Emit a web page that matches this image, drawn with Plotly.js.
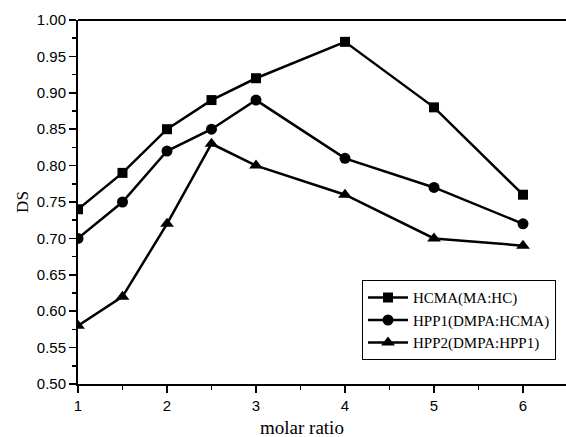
<!DOCTYPE html>
<html>
<head>
<meta charset="utf-8">
<script src="https://cdn.plot.ly/plotly-3.0.1.min.js"></script>
<style>html,body{margin:0;padding:0;background:#fff;}</style>
</head>
<body>
<div id="chart" style="width:566px;height:437px;"></div>
<script>
const molarRatio = [1, 1.5, 2, 2.5, 3, 4, 5, 6];
const hcma = [0.74, 0.79, 0.85, 0.89, 0.92, 0.97, 0.88, 0.76];
const hpp1 = [0.70, 0.75, 0.82, 0.85, 0.89, 0.81, 0.77, 0.72];
const hpp2 = [0.58, 0.62, 0.72, 0.83, 0.80, 0.76, 0.70, 0.69];
const seriesNames = ['HCMA(MA:HC)', 'HPP1(DMPA:HCMA)', 'HPP2(DMPA:HPP1)'];
const xTicks = [1, 2, 3, 4, 5, 6];
const yTicks = [0.50, 0.55, 0.60, 0.65, 0.70, 0.75, 0.80, 0.85, 0.90, 0.95, 1.00];

const lineStyle = {color: '#000', width: 2.5};
const traces = [
  {x: molarRatio, y: hcma, name: seriesNames[0], mode: 'lines+markers', line: lineStyle,
   marker: {symbol: 'square', size: 10, color: '#000'}},
  {x: molarRatio, y: hpp1, name: seriesNames[1], mode: 'lines+markers', line: lineStyle,
   marker: {symbol: 'circle', size: 11, color: '#000'}},
  {x: molarRatio, y: hpp2, name: seriesNames[2], mode: 'lines+markers', line: lineStyle,
   marker: {symbol: 'triangle-up', size: 12, color: '#000'}}
];

const tickFont = {family: 'Liberation Sans, Arial, sans-serif', size: 15, color: '#000'};
const layout = {
  width: 566, height: 437,
  margin: {l: 78, r: 0, t: 19.5, b: 53},
  paper_bgcolor: '#fff', plot_bgcolor: '#fff',
  showlegend: true,
  xaxis: {
    range: [1, 6.483], tickvals: xTicks, ticktext: xTicks.map(String),
    showgrid: false, zeroline: false, showline: true, linecolor: '#000', linewidth: 2,
    ticks: 'outside', ticklen: 7, tickwidth: 1.5, tickcolor: '#000',
    tickfont: tickFont,
    minor: {dtick: 0.5, tick0: 1, ticks: 'outside', ticklen: 4, tickwidth: 1.5, tickcolor: '#000', showgrid: false}
  },
  yaxis: {
    range: [0.5, 1.0], tickvals: yTicks, ticktext: yTicks.map(v => v.toFixed(2)),
    showgrid: false, zeroline: false, showline: true, linecolor: '#000', linewidth: 2,
    ticks: 'outside', ticklen: 7, tickwidth: 1.5, tickcolor: '#000',
    tickfont: tickFont,
    title: {text: 'DS', font: {family: 'Liberation Serif, Times New Roman, serif', size: 17, color: '#000'}, standoff: 4},
    minor: {dtick: 0.025, tick0: 0.5, ticks: 'outside', ticklen: 4, tickwidth: 1.5, tickcolor: '#000', showgrid: false}
  },
  shapes: [
    {type: 'line', xref: 'paper', yref: 'paper', x0: 0, x1: 1, y0: 1, y1: 1, line: {color: '#000', width: 2}}
  ],
  annotations: [
    {text: 'molar ratio', xref: 'paper', yref: 'paper', x: 0.459, y: 0, yshift: -43, showarrow: false,
     xanchor: 'center', yanchor: 'middle', font: {family: 'Liberation Serif, Times New Roman, serif', size: 19, color: '#000'}}
  ],
  legend: {
    x: 0.582, y: 0.285, xanchor: 'left', yanchor: 'top',
    bordercolor: '#000', borderwidth: 1, bgcolor: '#fff',
    font: {family: 'Liberation Serif, Times New Roman, serif', size: 15, color: '#000'},
    itemwidth: 40, tracegroupgap: 0
  }
};
Plotly.newPlot('chart', traces, layout, {displayModeBar: false, staticPlot: true});
</script>
</body>
</html>
